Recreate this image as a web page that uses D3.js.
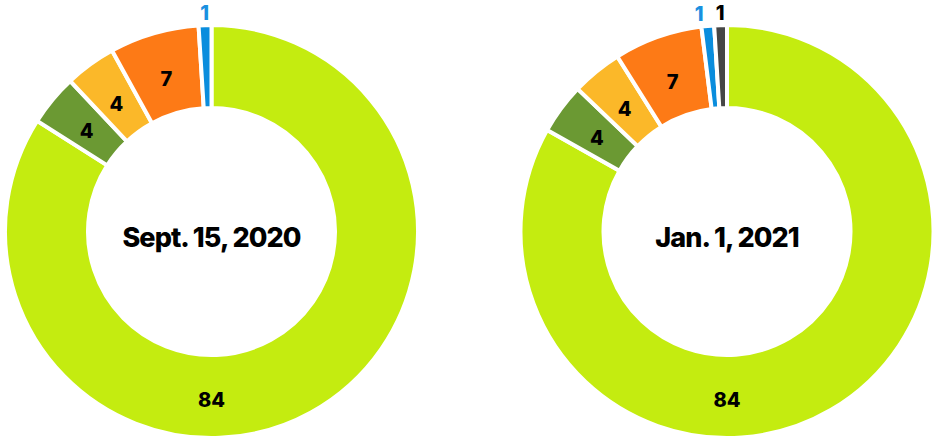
<!DOCTYPE html>
<html>
<head>
<meta charset="utf-8">
<script src="https://cdn.jsdelivr.net/npm/d3@7"></script>
<style>
    body { margin: 0; background: #fff; }
    svg { display: block; font-family: Inter, "Liberation Sans", Arial, sans-serif; }
</style>
</head>
<body>
<div id="chart"></div>
<script>
// data
const categories = ['A', 'B', 'C', 'D', 'E', 'F'];
const dates = ['Sept. 15, 2020', 'Jan. 1, 2021'];
const valuesSept = [84, 4, 4, 7, 1, 0];
const valuesJan = [84, 4, 4, 7, 1, 1];
const sliceColors = ['#c4ec10', '#6b9933', '#fbb829', '#fd7a16', '#0a8ddd', '#464646'];
const outerLabelColors = ['#000', '#000', '#000', '#000', '#1a90e0', '#000'];

const WIDTH = 932, HEIGHT = 437;
const R = 206.5, r = 123.5;
const centres = [[211.5, 231.5], [727, 231.5]];

const svg = d3.select('#chart').append('svg')
    .attr('width', WIDTH)
    .attr('height', HEIGHT);

const pie = d3.pie().sort(null).value(d => d.value);
const arc = d3.arc().outerRadius(R).innerRadius(r);
const labelRadius = (R + r) / 2 - 3;

[valuesSept, valuesJan].forEach((values, i) => {
    let rows = categories.map((c, j) => ({ cat: c, value: values[j], idx: j }));
    let arcs = pie(rows).filter(d => d.data.value > 0);

    let g = svg.append('g')
        .attr('transform', 'translate(' + centres[i][0] + ',' + centres[i][1] + ')');

    g.selectAll('path')
        .data(arcs)
        .join('path')
        .attr('d', arc)
        .attr('fill', d => sliceColors[d.data.idx])
        .attr('stroke', '#fff')
        .attr('stroke-width', 4);

    // inner labels for the wide slices (biggest one sits at the bottom)
    let biggest = d3.max(arcs, d => d.data.value);
    let pos = d => {
        let big = d.data.value === biggest;
        let a = big ? Math.PI : (d.startAngle + d.endAngle) / 2;
        let rr = big ? labelRadius + 3 : labelRadius;
        return [Math.sin(a) * rr, -Math.cos(a) * rr];
    };
    g.selectAll('text.inner')
        .data(arcs.filter(d => d.data.value > 1))
        .join('text')
        .attr('class', 'inner')
        .attr('x', d => pos(d)[0])
        .attr('y', d => pos(d)[1] + 3)
        .attr('dy', '0.36em')
        .attr('text-anchor', 'middle')
        .attr('font-size', 20)
        .attr('font-weight', 800)
        .attr('fill', '#000')
        .text(d => d.data.value);

    // outside labels for the thin slices, pushed apart if they collide
    let outer = arcs.filter(d => d.data.value <= 1).map(d => {
        let a = (d.startAngle + d.endAngle) / 2;
        return { d: d, x: Math.sin(a) * (R + 12), y: -Math.cos(a) * (R + 12) };
    });
    for (let k = outer.length - 2; k >= 0; k--) {
        if (outer[k].x > outer[k + 1].x - 21) outer[k].x = outer[k + 1].x - 21;
    }
    g.selectAll('text.outer')
        .data(outer)
        .join('text')
        .attr('class', 'outer')
        .attr('x', o => o.x)
        .attr('y', o => o.y)
        .attr('dy', '0.36em')
        .attr('text-anchor', 'middle')
        .attr('font-size', 20)
        .attr('font-weight', 800)
        .attr('fill', o => outerLabelColors[o.d.data.idx])
        .text(o => o.d.data.value);

    g.append('text')
        .attr('x', 0)
        .attr('y', 6)
        .attr('dy', '0.36em')
        .attr('text-anchor', 'middle')
        .attr('font-size', 27)
        .attr('font-weight', 800)
        .attr('letter-spacing', -0.9)
        .attr('fill', '#000')
        .text(dates[i]);
});
</script>
</body>
</html>
